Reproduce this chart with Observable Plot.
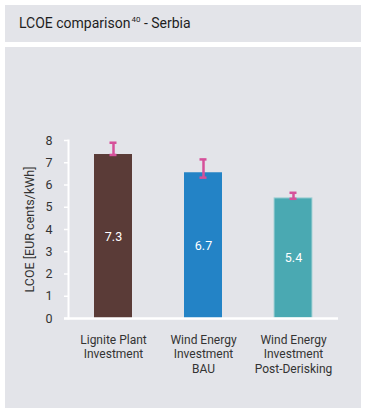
<!DOCTYPE html>
<html>
<head>
<meta charset="utf-8">
<script src="https://cdn.jsdelivr.net/npm/d3@7"></script>
<script src="https://cdn.jsdelivr.net/npm/@observablehq/plot@0.6"></script>
<style>
  html, body { margin: 0; padding: 0; background: #ffffff; width: 368px; height: 408px; overflow: hidden; font-family: Roboto, "DejaVu Sans", sans-serif; }
  #title { position: absolute; left: 5px; top: 5px; width: 356px; height: 37px; background: #e3e4e9; color: #1e1e1e; font-size: 14px; line-height: 37px; box-sizing: border-box; padding-left: 14px; }
  #title sup { font-size: 8px; vertical-align: 6px; line-height: 0; margin-left: 1px; }
  #chart { position: absolute; left: 5px; top: 47px; width: 356px; height: 361px; background: #e3e4e9; }
  #chart svg { display: block; }
</style>
</head>
<body>
<div id="title">LCOE comparison<sup>40</sup> - Serbia</div>
<div id="chart"></div>
<script>
const categories = ["Lignite Plant\nInvestment", "Wind Energy\nInvestment\nBAU", "Wind Energy\nInvestment\nPost-Derisking"];
const barValues = [7.37, 6.55, 5.40];
const barLabels = ["7.3", "6.7", "5.4"];
const errLow = [7.35, 6.33, 5.38];
const errHigh = [7.90, 7.15, 5.65];
const barColors = ["#5a3b37", "#2383c6", "#4aa9b2"];
const barStrokes = ["none", "none", "#a9d3d7"];
const yTicks = [0, 1, 2, 3, 4, 5, 6, 7, 8];

const data = categories.map((c, i) => ({
  cat: c, value: barValues[i], label: barLabels[i],
  lo: errLow[i], hi: errHigh[i], fill: barColors[i], stroke: barStrokes[i]
}));

const plot = Plot.plot({
  width: 356,
  height: 361,
  marginTop: 93,
  marginBottom: 90,
  marginLeft: 63,
  marginRight: 23,
  style: { background: "transparent", fontFamily: "Roboto, 'DejaVu Sans', sans-serif", fontSize: "12px", color: "#333" },
  x: { domain: categories, paddingInner: 0.58, paddingOuter: 0.29, axis: null },
  y: { domain: [0, 8], axis: null },
  marks: [
    Plot.barY(data, { x: "cat", y: "value", fill: d => d.fill, stroke: d => d.stroke, strokeWidth: 1 }),
    Plot.text(data, { x: "cat", y: d => d.value / 2, text: "label", fill: "white", fontSize: 12.5 }),
    Plot.ruleX(data, { x: "cat", y1: "lo", y2: "hi", stroke: "#d6509a", strokeWidth: 2.5 }),
    Plot.tickY(data, { x: "cat", y: "lo", stroke: "#d6509a", strokeWidth: 2.5, insetLeft: 15.5, insetRight: 15.5 }),
    Plot.tickY(data, { x: "cat", y: "hi", stroke: "#d6509a", strokeWidth: 2.5, insetLeft: 15.5, insetRight: 15.5 }),
    Plot.axisY({ ticks: yTicks, tickSize: 4, tickPadding: 12, stroke: "white", strokeWidth: 1.5, strokeOpacity: 1, fill: "#333", fontSize: 12.5,
      label: "LCOE [EUR cents/kWh]", labelAnchor: "center", labelOffset: 43, labelArrow: "none" }),
    Plot.frame({ anchor: "left", stroke: "white", strokeWidth: 2 }),
    Plot.ruleY([0], { stroke: "white", strokeWidth: 2.5, insetLeft: -4 }),
    Plot.text(data, { x: "cat", frameAnchor: "bottom", text: "cat", lineAnchor: "top", dy: 15, lineHeight: 1.2, fill: "#333", fontSize: 12 })
  ]
});
document.getElementById("chart").appendChild(plot);
</script>
</body>
</html>
